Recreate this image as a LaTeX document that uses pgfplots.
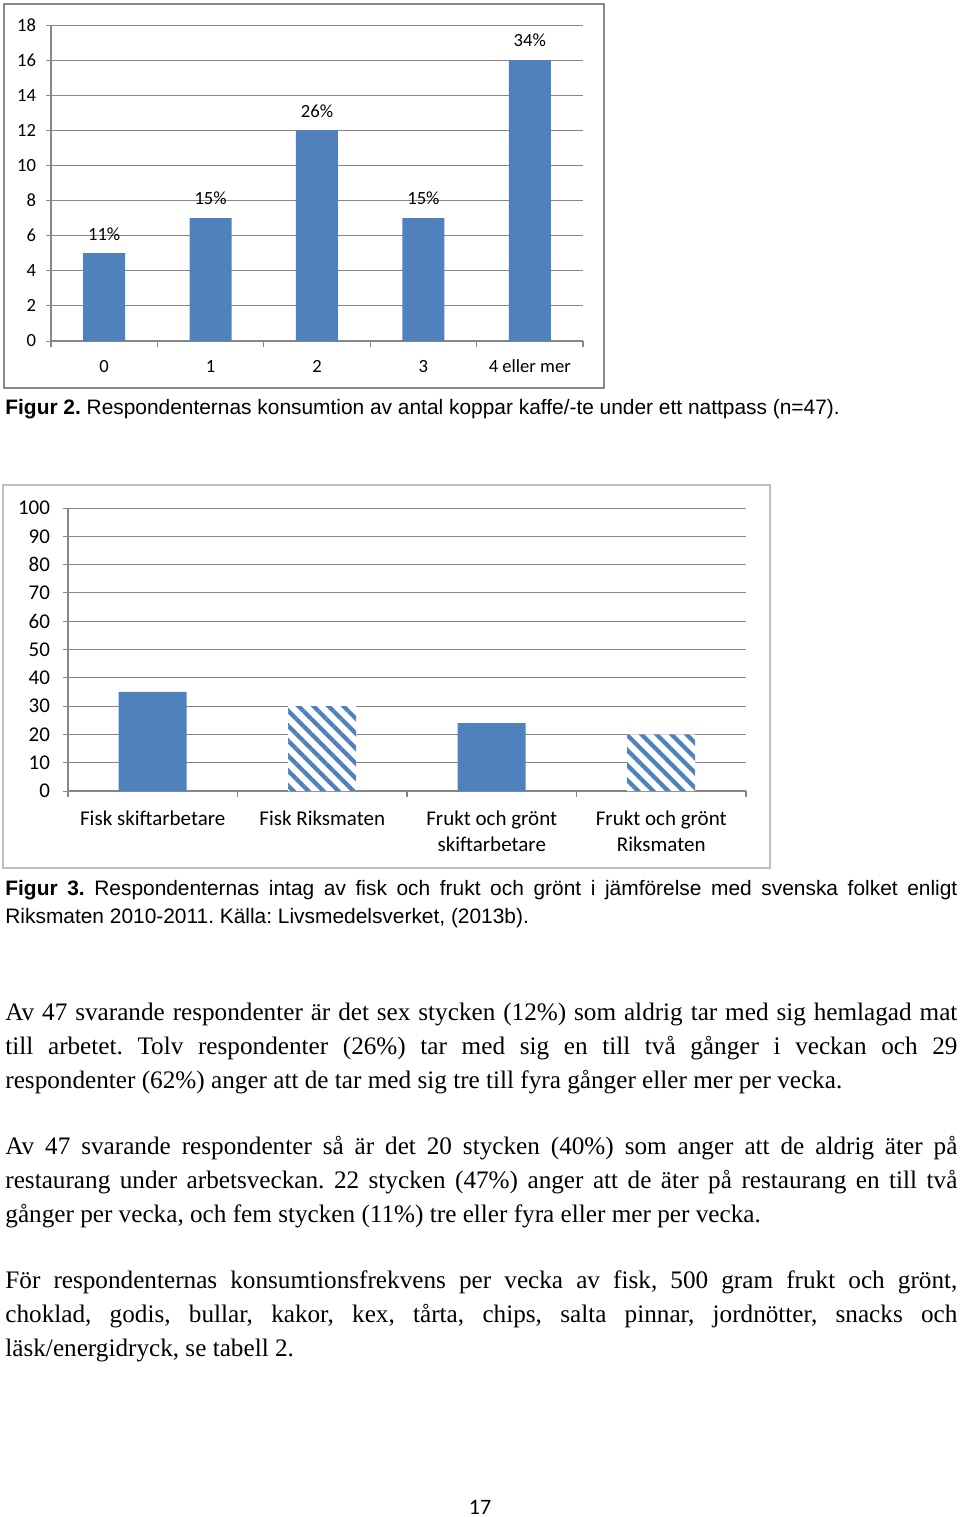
\documentclass[border=0pt]{standalone}
\usepackage{fontspec}
\setmainfont{Liberation Serif}
\newfontfamily\arial{Liberation Sans}
\newfontfamily\calibri{Carlito}
\usepackage{pgfplots}
\pgfplotsset{compat=1.18}
\usetikzlibrary{patterns.meta}
\definecolor{barblue}{HTML}{4F81BD}
\definecolor{gridgray}{HTML}{868686}
\definecolor{boxgray}{HTML}{8A8A8A}
\definecolor{lightbox}{HTML}{BFBFBF}
\frenchspacing
\pgfplotsset{excel/.style={
  scale only axis, anchor=south west,
  axis x line*=bottom, axis y line*=left,
  axis line style={gridgray, line width=0.6pt},
  ymajorgrids, grid style={gridgray, line width=0.5pt},
  tick align=outside, major tick length=2.5pt, minor tick length=3pt,
  major x tick style={draw=none}, ytick style={gridgray, line width=0.5pt},
  minor x tick style={gridgray, line width=0.6pt},
  /pgf/number format/assume math mode=true,
  clip=false,
}}
\begin{document}
\begin{tikzpicture}
\path[use as bounding box] (0,0) rectangle (480pt,-758.5pt);
% ---------- Figure 2 ----------
\draw[boxgray, line width=1pt] (2pt,-2pt) rectangle (302pt,-194pt);
\begin{axis}[excel, at={(25.5pt,-170.5pt)}, width=266pt, height=158pt,
  ymin=0, ymax=18, ytick={0,2,...,18},
  xmin=-0.5, xmax=4.5, xtick={0,1,2,3,4}, xticklabels={0,1,2,3,4 eller mer},
  minor xtick={-0.5,0.5,1.5,2.5,3.5,4.5},
  tick label style={font=\calibri\fontsize{9.3}{11}\selectfont},
  yticklabel style={xshift=-1.5pt},
  xticklabel style={yshift=-3.5pt},
  ybar, bar width=21pt,
  nodes near coords, point meta=explicit symbolic,
  every node near coord/.append style={font=\calibri\fontsize{9.3}{11}\selectfont, yshift=3pt}]
\addplot[fill=barblue, draw=none] coordinates {(0,5)[11\%] (1,7)[15\%] (2,12)[26\%] (3,7)[15\%] (4,16)[34\%]};
\end{axis}
\node[anchor=base west, inner sep=0, font=\arial\fontsize{10.45}{12}\selectfont] at (2.5pt,-207pt)
  {\textbf{Figur 2.} Respondenternas konsumtion av antal koppar kaffe/-te under ett nattpass (n=47).};
% ---------- Figure 3 ----------
\draw[lightbox, line width=0.8pt] (1.5pt,-242.5pt) rectangle (385pt,-434pt);
\begin{axis}[excel, at={(34pt,-395.5pt)}, width=339pt, height=141.5pt,
  ymin=0, ymax=100, ytick={0,10,...,100},
  xmin=-0.5, xmax=3.5, xtick={0,1,2,3},
  xticklabels={Fisk skiftarbetare, Fisk Riksmaten, {Frukt och grönt\\skiftarbetare}, {Frukt och grönt\\Riksmaten}},
  minor xtick={-0.5,0.5,1.5,2.5,3.5},
  tick label style={font=\calibri\fontsize{10.5}{13}\selectfont},
  yticklabel style={xshift=-3pt},
  xticklabel style={align=center, yshift=-4pt},
  ybar, bar width=34pt]
\addplot[fill=barblue, draw=none, bar shift=0pt] coordinates {(0,35) (2,24)};
\addplot[fill=white, draw=none, bar shift=0pt,
  postaction={pattern={Lines[angle=-45,distance=5.3pt,line width=2.1pt]}, pattern color=barblue}]
  coordinates {(1,30) (3,20)};
\end{axis}
\node[anchor=base west, inner sep=0] at (2.5pt,-447.5pt) {\parbox[t]{476pt}{\arial\fontsize{10.45}{14}\selectfont
  \hyphenpenalty=10000\exhyphenpenalty=10000\emergencystretch=3em
  \textbf{Figur 3.} Respondenternas intag av fisk och frukt och grönt i jämförelse med svenska folket enligt\linebreak
  Riksmaten 2010-2011. Källa: Livsmedelsverket, (2013b).}};
% ---------- Body text ----------
\node[anchor=base west, inner sep=0] at (2.5pt,-510pt) {\parbox[t]{476pt}{\fontsize{12.6}{17}\selectfont
  \hyphenpenalty=10000\exhyphenpenalty=10000\emergencystretch=3em
  Av 47 svarande respondenter är det sex stycken (12\%) som aldrig tar med sig hemlagad mat\linebreak
  till arbetet. Tolv respondenter (26\%) tar med sig en till två gånger i veckan och 29\linebreak
  respondenter (62\%) anger att de tar med sig tre till fyra gånger eller mer per vecka.}};
\node[anchor=base west, inner sep=0] at (2.5pt,-577pt) {\parbox[t]{476pt}{\fontsize{12.6}{17}\selectfont
  \hyphenpenalty=10000\exhyphenpenalty=10000\emergencystretch=3em
  Av 47 svarande respondenter så är det 20 stycken (40\%) som anger att de aldrig äter på\linebreak
  restaurang under arbetsveckan. 22 stycken (47\%) anger att de äter på restaurang en till två\linebreak
  gånger per vecka, och fem stycken (11\%) tre eller fyra eller mer per vecka.}};
\node[anchor=base west, inner sep=0] at (2.5pt,-644pt) {\parbox[t]{476pt}{\fontsize{12.6}{17}\selectfont
  \hyphenpenalty=10000\exhyphenpenalty=10000\emergencystretch=3em
  För respondenternas konsumtionsfrekvens per vecka av fisk, 500 gram frukt och grönt,\linebreak
  choklad, godis, bullar, kakor, kex, tårta, chips, salta pinnar, jordnötter, snacks och\linebreak
  läsk/energidryck, se tabell 2.}};
\node[anchor=base, inner sep=0, font=\calibri\fontsize{11}{13}\selectfont] at (240pt,-757pt) {17};
\end{tikzpicture}
\end{document}
